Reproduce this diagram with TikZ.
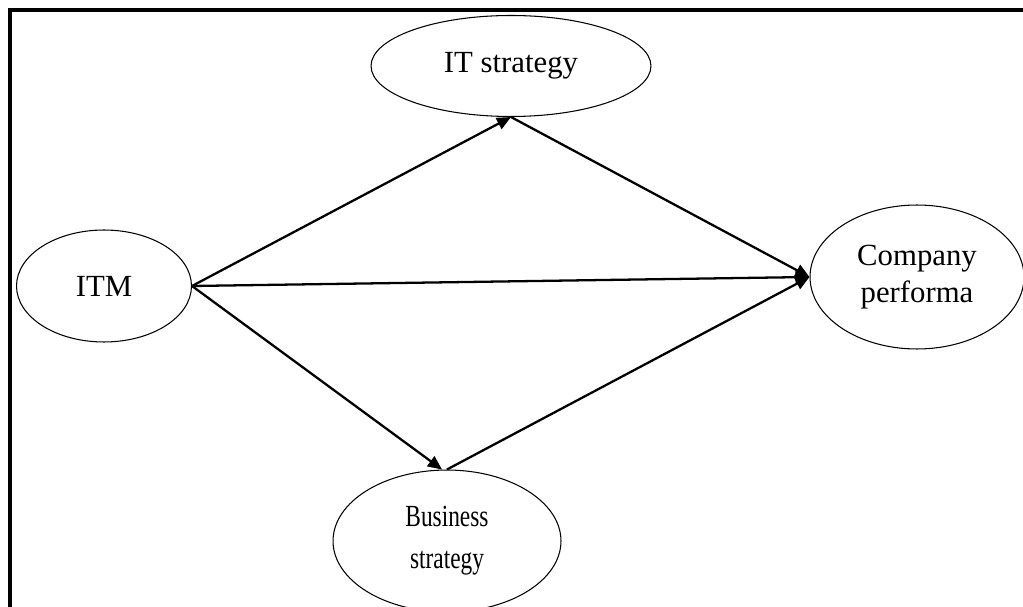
\documentclass[tikz,border=0pt]{standalone}
\usepackage{fontspec}
\setmainfont{Liberation Serif}
\newfontfamily\narrowfont[FakeStretch=0.76]{Liberation Serif}
\usetikzlibrary{shapes,arrows.meta,positioning,calc}
\usepackage{xcolor}

\tikzset{
  factor/.style={draw, ellipse, line width=0.6pt, inner sep=0pt, align=center,
                 font=\fontsize{17.5}{21.5}\selectfont},
  link/.style={line width=1.3pt, -{Triangle[length=8pt,width=7pt]}}
}

\begin{document}
\begin{tikzpicture}[x=0.02cm, y=-0.02cm]
    \useasboundingbox (0,0) rectangle (1023,607);
    \clip (0,0) rectangle (1023,607);
    % outer frame
    \draw[line width=2.3pt] (10,640) -- (10,10) -- (1040,10);
    % factors
    \node[factor, minimum width=3.5cm, minimum height=2.24cm] (itm) at (104,286) {ITM};
    \node[factor, minimum width=5.6cm, minimum height=2.02cm] (its) at (511,66) {IT strategy};
    \node[factor, minimum width=4.28cm, minimum height=2.88cm] (cp) at (917,277) {Company\\performa};
    \node[factor, minimum width=4.56cm, minimum height=2.84cm,
          font=\fontsize{17.5}{24}\narrowfont] (bs) at (447,541) {Business\\strategy};
    % links
    \draw[link] (itm.east) -- (its.south);
    \draw[link] (its.south) -- (cp.west);
    \draw[link] (itm.east) -- (cp.west);
    \draw[link] (itm.east) -- ([xshift=-0.1cm]bs.north);
    \draw[link] (bs.north) -- (cp.west);
\end{tikzpicture}
\end{document}
